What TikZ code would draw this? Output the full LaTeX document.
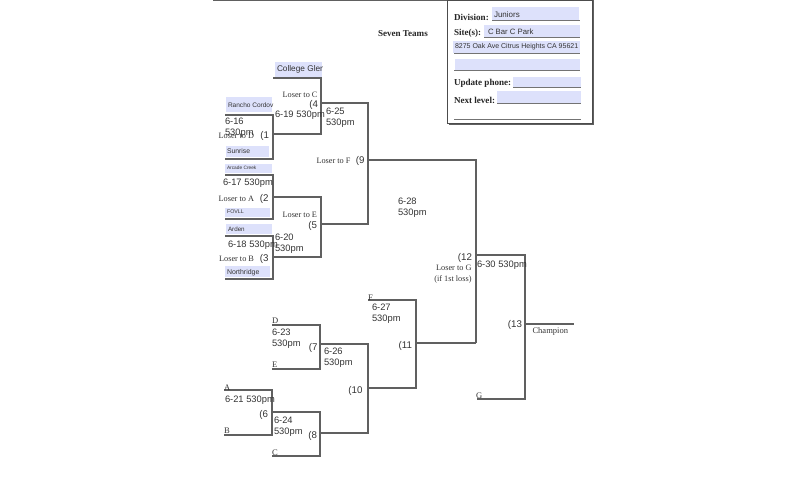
\documentclass[tikz,border=0pt]{standalone}
\usepackage{fontspec}
\setmainfont{Liberation Serif}
\setsansfont{Liberation Sans}
\usepackage{xcolor}
\definecolor{fieldblue}{HTML}{DDE1FB}
\definecolor{linegrey}{HTML}{606060}
\definecolor{textgrey}{HTML}{333333}

\begin{document}
\begin{tikzpicture}[x=0.75pt, y=-0.75pt, inner sep=0pt, outer sep=0pt]
	\tikzset{
		line/.style = {draw=linegrey, line width=0.9pt},
		field/.style = {fill=fieldblue, anchor=north west},
		team/.style = {anchor=west, text=textgrey},
		date/.style = {anchor=west, font=\sffamily\fontsize{7}{8.3}\selectfont, text=textgrey, align=left},
		num/.style = {anchor=east, font=\sffamily\fontsize{7.3}{8.6}\selectfont, text=textgrey},
		loser/.style = {anchor=east, font=\fontsize{6.2}{8.3}\selectfont, text=textgrey, align=right},
		slot/.style = {anchor=south west, font=\fontsize{6.4}{7}\selectfont, text=textgrey},
		head/.style = {anchor=west, font=\bfseries\fontsize{6.8}{8}\selectfont, text=black!85},
	}
	\useasboundingbox (0,0) rectangle (805,500);

	% form box
	\coordinate (top1) at (213,0.5); \coordinate (top2) at (592,0.5);
	\draw[line] (top1) -- (top2);
	\node[fill=linegrey, minimum width=108.75pt, minimum height=93.75pt, anchor=north west] (shadow) at (449,-0.5) {};
	\node[fill=white, draw=black!70, line width=0.7pt, minimum width=108.75pt, minimum height=92.25pt, anchor=north west] (form) at (447,0) {};

	\node[head] (division) at (454,17) {Division:};
	\node[head] (site) at (454,33) {Site(s):};
	\node[head] (update) at (454,83) {Update phone:};
	\node[head] (next) at (454,100) {Next level:};
	\node[head] (seven) at (378,33.5) {Seven Teams};

	\node[field, minimum width=65.25pt, minimum height=9.75pt] (f1) at (492,7) {};
	\node[field, minimum width=72pt, minimum height=9pt] (f2) at (484,25) {};
	\node[field, minimum width=95.25pt, minimum height=9pt] (f3) at (453,41) {};
	\node[field, minimum width=93.75pt, minimum height=8.25pt] (f4) at (455,59) {};
	\node[field, minimum width=51pt, minimum height=7.5pt] (f5) at (513,77) {};
	\node[field, minimum width=63pt, minimum height=9pt] (f6) at (497,91) {};
	\node[anchor=west, font=\sffamily\fontsize{6}{7}\selectfont, text=textgrey] (t1) at (494,14.5) {Juniors};
	\node[anchor=west, font=\sffamily\fontsize{5.8}{7}\selectfont, text=textgrey] (t2) at (488,32) {C Bar C Park};
	\node[anchor=west, font=\sffamily\fontsize{5.25}{6}\selectfont, text=textgrey] (t3) at (455,47) {8275 Oak Ave Citrus Heights CA 95621};
	\coordinate (u1) at (492,20); \coordinate (u2) at (580,20);
	\coordinate (u3) at (484,37); \coordinate (u4) at (580,37);
	\coordinate (u5) at (454,53); \coordinate (u6) at (580,53);
	\coordinate (u7) at (454,70); \coordinate (u8) at (580,70);
	\coordinate (u9) at (513,87); \coordinate (u10) at (581,87);
	\coordinate (u11) at (497,103); \coordinate (u12) at (581,103);
	\coordinate (u13) at (454,119); \coordinate (u14) at (581,119);
	\foreach \a/\b in {u1/u2, u3/u4, u5/u6, u7/u8, u9/u10, u11/u12, u13/u14}
		\draw[draw=black!55, line width=0.6pt] (\a) -- (\b);

	% upper bracket
	\node[field, minimum width=35.25pt, minimum height=11.25pt] (glenbox) at (275,62) {};
	\node[field, minimum width=34.5pt, minimum height=11.25pt] (ranchobox) at (226,97) {};
	\node[field, minimum width=32.25pt, minimum height=8.25pt] (sunrisebox) at (226,146) {};
	\node[field, minimum width=35.25pt, minimum height=6.75pt] (arcadebox) at (225,164) {};
	\node[field, minimum width=33.75pt, minimum height=7pt] (fovllbox) at (225,208) {};
	\node[field, minimum width=34.5pt, minimum height=7.5pt] (ardenbox) at (226,224) {};
	\node[field, minimum width=33.75pt, minimum height=8.25pt] (northbox) at (225,266) {};

	\begin{scope}
		\clip (glenbox.north west) rectangle (glenbox.south east);
		\node[team, font=\sffamily\fontsize{6.2}{8}\selectfont] (glen) at (277,69.5) {College Glen};
	\end{scope}
	\node[team, font=\sffamily\fontsize{4.9}{6}\selectfont] (rancho) at (228,105) {Rancho Cordov};
	\node[team, font=\sffamily\fontsize{5.1}{7}\selectfont] (sunrise) at (227,151.5) {Sunrise};
	\node[team, font=\sffamily\fontsize{3.6}{4}\selectfont] (arcade) at (227,168) {Arcade Creek};
	\node[team, font=\sffamily\fontsize{4}{5}\selectfont] (fovll) at (227,212) {FOVLL};
	\node[team, font=\sffamily\fontsize{4.7}{6}\selectfont] (arden) at (228,229) {Arden};
	\node[team, font=\sffamily\fontsize{5.2}{7}\selectfont] (north) at (227,273) {Northridge};

	\coordinate (g1) at (273,78); \coordinate (g2) at (321,78); \coordinate (g3) at (321,134);
	\coordinate (r1) at (225,115); \coordinate (r2) at (273,115); \coordinate (r3) at (273,159); \coordinate (r4) at (225,159);
	\coordinate (r5) at (273,134);
	\coordinate (a1) at (225,175); \coordinate (a2) at (273,175); \coordinate (a3) at (273,219); \coordinate (a4) at (225,219);
	\coordinate (a5) at (273,197); \coordinate (a6) at (321,197);
	\coordinate (b1) at (225,236); \coordinate (b2) at (273,236); \coordinate (b3) at (273,279); \coordinate (b4) at (225,279);
	\coordinate (b5) at (273,257); \coordinate (b6) at (321,257);
	\coordinate (c1) at (321,103); \coordinate (c2) at (368,103); \coordinate (c3) at (321,224); \coordinate (c4) at (368,224);
	\coordinate (c5) at (368,160); \coordinate (c6) at (476,160); \coordinate (c7) at (476,343);

	\draw[line] (g1) -- (g2) -- (g3) -- (r5);
	\draw[line] (r1) -- (r2) -- (r3) -- (r4);
	\draw[line] (a1) -- (a2) -- (a3) -- (a4);
	\draw[line] (b1) -- (b2) -- (b3) -- (b4);
	\draw[line] (a5) -- (a6) -- (b6) -- (b5);
	\draw[line] (c1) -- (c2) -- (c4) -- (c3);
	\draw[line] (c5) -- (c6) -- (c7);

	% lower bracket
	\coordinate (d1) at (272,325); \coordinate (d2) at (320,325); \coordinate (d3) at (320,369); \coordinate (d4) at (272,369);
	\coordinate (e1) at (224,390); \coordinate (e2) at (272,390); \coordinate (e3) at (272,435); \coordinate (e4) at (224,435);
	\coordinate (h1) at (272,412); \coordinate (h2) at (320,412); \coordinate (h3) at (320,456); \coordinate (h4) at (272,456);
	\coordinate (k1) at (320,344); \coordinate (k2) at (368,344); \coordinate (k3) at (368,433); \coordinate (k4) at (320,433);
	\coordinate (m1) at (368,300); \coordinate (m2) at (416,300); \coordinate (m3) at (416,388); \coordinate (m4) at (368,388);
	\coordinate (n1) at (416,343);
	\coordinate (p1) at (476,255); \coordinate (p2) at (525,255); \coordinate (p3) at (525,399); \coordinate (p4) at (477,399);
	\coordinate (p5) at (574,324);  \coordinate (p6) at (525,324);

	\draw[line] (d1) -- (d2) -- (d3) -- (d4);
	\draw[line] (e1) -- (e2) -- (e3) -- (e4);
	\draw[line] (h1) -- (h2) -- (h3) -- (h4);
	\draw[line] (k1) -- (k2) -- (k3) -- (k4);
	\draw[line] (m1) -- (m2) -- (m3) -- (m4);
	\draw[line] (n1) -- (c7);
	\draw[line] (p1) -- (p2) -- (p3) -- (p4);
	\draw[line] (p6) -- (p5);

	% dates
	\node[date] (d616) at (225,127.5) {6-16\\530pm};
	\node[date] (d617) at (223,183) {6-17 530pm};
	\node[date] (d618) at (228,245) {6-18 530pm};
	\node[date] (d619) at (275,115.5) {6-19 530pm};
	\node[date] (d620) at (275,243.5) {6-20\\530pm};
	\node[date] (d625) at (326,118) {6-25\\530pm};
	\node[date] (d628) at (398,207.5) {6-28\\530pm};
	\node[date] (d630) at (477,265) {6-30 530pm};
	\node[date] (d623) at (272,339) {6-23\\530pm};
	\node[date] (d626) at (324,358) {6-26\\530pm};
	\node[date] (d627) at (372,314) {6-27\\530pm};
	\node[date] (d621) at (225,400) {6-21 530pm};
	\node[date] (d624) at (274,427) {6-24\\530pm};

	% game numbers
	\foreach \name/\x/\y/\txt in {n4/318/105/4, n1/269/136/1, n9/364.5/160.5/9, n2/268.5/198.5/2, n5/317/225.5/5, n3/268.5/258.5/3,
		n12/472/257.5/12, n13/522/324.5/13, n11/412/345.5/11, n7/317.5/347.5/7, n10/362.5/390.5/10, n6/268/414.5/6, n8/317/435.5/8}
		\node[num] (\name) at (\x,\y) {(\txt};

	% loser labels
	\node[loser] (l4) at (317.5,95) {Loser to C};
	\node[loser] (l1) at (254,136) {Loser to D};
	\node[loser] (l9) at (350.5,160.5) {Loser to F};
	\node[loser] (l2) at (254,198.5) {Loser to A};
	\node[loser] (l5) at (317,215) {Loser to E};
	\node[loser] (l3) at (254,258.5) {Loser to B};
	\node[loser] (l12) at (471.5,274.5) {Loser to G\\(if 1st loss)};

	% slots
	\foreach \name/\x/\y/\txt in {sd/272/323.5/D, se/272/367.5/E, sa/224/390/A, sb/224/434/B, sc/272/456/C, sf/368/300/F, sg/476/399/G}
		\node[slot] (\name) at (\x,\y) {\txt};
	\node[anchor=west, font=\fontsize{6.4}{8}\selectfont, text=textgrey] (champ) at (532.5,331) {Champion};
\end{tikzpicture}
\end{document}
